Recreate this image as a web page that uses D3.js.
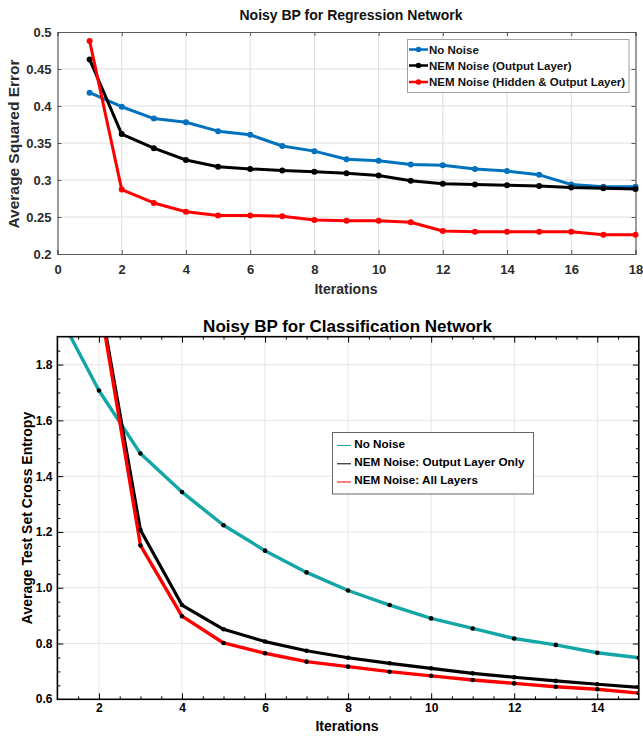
<!DOCTYPE html>
<html><head><meta charset="utf-8">
<script src="https://cdn.jsdelivr.net/npm/d3@7"></script>
<style>
html,body{margin:0;padding:0;background:#fff;}
svg{display:block;font-family:"Liberation Sans",Arial,sans-serif;font-weight:bold;}
</style></head>
<body>
<svg id="c" width="643" height="736"></svg>
<script>
// ---------- Data: top chart (regression) ----------
const regIterations = [1,2,3,4,5,6,7,8,9,10,11,12,13,14,15,16,17,18];
const regNoNoise   = [0.418,0.399,0.383,0.378,0.366,0.361,0.346,0.339,0.328,0.326,0.321,0.320,0.315,0.312,0.307,0.294,0.291,0.291];
const regNemOutput = [0.463,0.362,0.343,0.327,0.318,0.315,0.313,0.311,0.309,0.306,0.299,0.295,0.294,0.293,0.292,0.290,0.289,0.288];
const regNemHidden = [0.488,0.287,0.269,0.257,0.252,0.252,0.251,0.246,0.245,0.245,0.243,0.231,0.230,0.230,0.230,0.230,0.226,0.226];
const regXTicks = [0,2,4,6,8,10,12,14,16,18];
const regYTicks = [0.2,0.25,0.3,0.35,0.4,0.45,0.5];
const regYTickLabels = ["0.2","0.25","0.3","0.35","0.4","0.45","0.5"];
const regLegend = ["No Noise","NEM Noise (Output Layer)","NEM Noise (Hidden & Output Layer)"];

// ---------- Data: bottom chart (classification) ----------
const clsIterations = [1,2,3,4,5,6,7,8,9,10,11,12,13,14,15];
const clsNoNoise   = [1.99,1.707,1.481,1.343,1.224,1.133,1.055,0.990,0.938,0.890,0.854,0.818,0.795,0.767,0.749];
const clsNemOutput = [null,2.05,1.207,0.938,0.851,0.807,0.774,0.749,0.729,0.711,0.693,0.679,0.666,0.654,0.643];
const clsNemAll    = [null,2.04,1.152,0.898,0.802,0.765,0.735,0.717,0.699,0.684,0.669,0.657,0.645,0.636,0.622];
const clsXTicks = [2,4,6,8,10,12,14];
const clsYTicks = [0.6,0.8,1.0,1.2,1.4,1.6,1.8];
const clsYTickLabels = ["0.6","0.8","1.0","1.2","1.4","1.6","1.8"];
const clsLegend = ["No Noise","NEM Noise: Output Layer Only","NEM Noise: All Layers"];

const svg = d3.select("#c");

// ================= TOP CHART =================
(function(){
  const L=57.5, R=635.5, T=32, B=254;
  const x = d3.scaleLinear().domain([0,18]).range([L,R]);
  const y = d3.scaleLinear().domain([0.2,0.5]).range([B,T]);
  const g = svg.append("g");
  const axisCol = "#5a5a5a", textCol = "#2b2b2b";

  // grid
  g.append("g").selectAll("line").data(regXTicks.slice(1,-1)).join("line")
    .attr("x1",d=>x(d)).attr("x2",d=>x(d)).attr("y1",T).attr("y2",B)
    .attr("stroke","#dedede").attr("stroke-width",1);
  g.append("g").selectAll("line").data(regYTicks.slice(1,-1)).join("line")
    .attr("y1",d=>y(d)).attr("y2",d=>y(d)).attr("x1",L).attr("x2",R)
    .attr("stroke","#dedede").attr("stroke-width",1);

  // axes with inward ticks
  const xb = d3.axisBottom(x).tickValues(regXTicks).tickSize(-4).tickPadding(11).tickFormat(d3.format("d"));
  const xt = d3.axisTop(x).tickValues(regXTicks).tickSize(-4).tickFormat("");
  const yl = d3.axisLeft(y).tickValues(regYTicks).tickSize(-4).tickPadding(6).tickFormat((d,i)=>regYTickLabels[i]);
  const yr = d3.axisRight(y).tickValues(regYTicks).tickSize(-4).tickFormat("");
  function style(sel){
    sel.select(".domain").attr("stroke",axisCol).attr("stroke-width",1.2);
    sel.selectAll(".tick line").attr("stroke",axisCol);
    sel.selectAll(".tick text").attr("fill",textCol).style("font-size","13px").style("font-weight","bold")
      .style("font-family","'Liberation Sans',Arial,sans-serif");
  }
  g.append("g").attr("transform",`translate(0,${B})`).call(xb).call(style);
  g.append("g").attr("transform",`translate(0,${T})`).call(xt).call(style);
  g.append("g").attr("transform",`translate(${L},0)`).call(yl).call(style);
  g.append("g").attr("transform",`translate(${R},0)`).call(yr).call(style);

  // series
  const series = [
    {vals:regNoNoise, col:"#0072BD"},
    {vals:regNemOutput, col:"#000000"},
    {vals:regNemHidden, col:"#FF0000"}
  ];
  const line = d3.line().x(d=>x(d[0])).y(d=>y(d[1]));
  series.forEach(s=>{
    const pts = regIterations.map((it,i)=>[it,s.vals[i]]);
    g.append("path").datum(pts).attr("d",line).attr("fill","none")
      .attr("stroke",s.col).attr("stroke-width",3).attr("stroke-linejoin","round");
    g.append("g").selectAll("circle").data(pts).join("circle")
      .attr("cx",d=>x(d[0])).attr("cy",d=>y(d[1])).attr("r",3).attr("fill",s.col);
  });

  // title & labels
  svg.append("text").attr("x",351).attr("y",20).attr("text-anchor","middle")
    .attr("fill","#111").style("font-size","14px").text("Noisy BP for Regression Network");
  svg.append("text").attr("x",346).attr("y",294).attr("text-anchor","middle")
    .attr("fill",textCol).style("font-size","14px").text("Iterations");
  svg.append("text").attr("transform","translate(19,144) rotate(-90)").attr("text-anchor","middle")
    .attr("fill",textCol).style("font-size","15.5px").text("Average Squared Error");

  // legend
  const lg = svg.append("g");
  lg.append("rect").attr("x",407.5).attr("y",39.5).attr("width",221.5).attr("height",53)
    .attr("fill","#fff").attr("stroke","#a0a0a0").attr("stroke-width",1);
  const rows=[49.5,65.5,82];
  series.forEach((s,i)=>{
    lg.append("line").attr("x1",409).attr("x2",428).attr("y1",rows[i]).attr("y2",rows[i])
      .attr("stroke",s.col).attr("stroke-width",2.5);
    lg.append("circle").attr("cx",418.5).attr("cy",rows[i]).attr("r",2.8).attr("fill",s.col);
    lg.append("text").attr("x",429).attr("y",rows[i]+4.2).attr("fill","#111")
      .style("font-size","11.5px").text(regLegend[i]);
  });
})();

// ================= BOTTOM CHART =================
(function(){
  const L=57.4, R=638.8, T=336.7, B=699.3;
  const x = d3.scaleLinear().domain([1,15]).range([L,R]);
  const y = d3.scaleLinear().domain([0.6,1.9]).range([B,T]);
  const g = svg.append("g");

  // grid
  g.append("g").selectAll("line").data(clsXTicks).join("line")
    .attr("x1",d=>x(d)).attr("x2",d=>x(d)).attr("y1",T).attr("y2",B)
    .attr("stroke","#e6e6e6").attr("stroke-width",1);
  g.append("g").selectAll("line").data(clsYTicks.slice(1)).join("line")
    .attr("y1",d=>y(d)).attr("y2",d=>y(d)).attr("x1",L).attr("x2",R)
    .attr("stroke","#e6e6e6").attr("stroke-width",1);

  // minor ticks values
  const xMinor = d3.range(3,30).map(v=>v/2).filter(v=>v>1 && v<15 && v%2!==0);
  const yMinor = d3.range(13,38).map(v=>v/20).filter(v=>v>0.6 && v<1.9 && Math.abs((v*10)%2)>0.01 && Math.abs((v*10)%2-2)>0.01);

  function frameAxis(axisGen, tf){
    const a = g.append("g").attr("transform",tf).call(axisGen);
    a.select(".domain").remove();
    a.selectAll(".tick line").attr("stroke","#000").attr("stroke-width",1);
    a.selectAll(".tick text").attr("fill","#000").style("font-size","12px").style("font-weight","bold")
      .style("font-family","'Liberation Sans',Arial,sans-serif");
    return a;
  }
  // major ticks (inward)
  frameAxis(d3.axisBottom(x).tickValues(clsXTicks).tickSize(-6).tickPadding(4).tickFormat(d3.format("d")), `translate(0,${B})`);
  frameAxis(d3.axisTop(x).tickValues(clsXTicks).tickSize(-6).tickFormat(""), `translate(0,${T})`);
  frameAxis(d3.axisLeft(y).tickValues(clsYTicks.slice(1)).tickSize(-6).tickPadding(5).tickFormat((d,i)=>clsYTickLabels[i+1]), `translate(${L},0)`);
  frameAxis(d3.axisRight(y).tickValues(clsYTicks.slice(1)).tickSize(-6).tickFormat(""), `translate(${R},0)`);
  // 0.6 label at corner
  g.append("text").attr("x",L-5).attr("y",y(0.6)+4).attr("text-anchor","end")
    .style("font-size","12px").attr("fill","#000").text(clsYTickLabels[0]);
  // minor ticks
  frameAxis(d3.axisBottom(x).tickValues(xMinor).tickSize(-3).tickFormat(""), `translate(0,${B})`);
  frameAxis(d3.axisTop(x).tickValues(xMinor).tickSize(-3).tickFormat(""), `translate(0,${T})`);
  frameAxis(d3.axisLeft(y).tickValues(yMinor).tickSize(-3).tickFormat(""), `translate(${L},0)`);
  frameAxis(d3.axisRight(y).tickValues(yMinor).tickSize(-3).tickFormat(""), `translate(${R},0)`);

  // clip
  svg.append("defs").append("clipPath").attr("id","clsClip").append("rect")
    .attr("x",L).attr("y",T).attr("width",R-L).attr("height",B-T);
  const pg = g.append("g").attr("clip-path","url(#clsClip)");

  const series = [
    {vals:clsNoNoise, col:"#13a6a6", w:3.4},
    {vals:clsNemOutput, col:"#000000", w:3.2},
    {vals:clsNemAll, col:"#ff0000", w:3.4}
  ];
  const line = d3.line().defined(d=>d[1]!==null).x(d=>x(d[0])).y(d=>y(d[1]));
  series.forEach(s=>{
    const pts = clsIterations.map((it,i)=>[it,s.vals[i]]);
    pg.append("path").datum(pts).attr("d",line).attr("fill","none")
      .attr("stroke",s.col).attr("stroke-width",s.w).attr("stroke-linejoin","round");
  });
  series.forEach(s=>{
    const pts = clsIterations.map((it,i)=>[it,s.vals[i]]).filter(d=>d[1]!==null);
    pg.append("g").selectAll("circle").data(pts).join("circle")
      .attr("cx",d=>x(d[0])).attr("cy",d=>y(d[1])).attr("r",2.3).attr("fill","#000");
  });

  // frame
  g.append("rect").attr("x",L).attr("y",T).attr("width",R-L).attr("height",B-T)
    .attr("fill","none").attr("stroke","#000").attr("stroke-width",1.6);

  // title & labels
  svg.append("text").attr("x",347.5).attr("y",331.5).attr("text-anchor","middle")
    .attr("fill","#000").style("font-size","17px").text("Noisy BP for Classification Network");
  svg.append("text").attr("x",347).attr("y",731).attr("text-anchor","middle")
    .attr("fill","#000").style("font-size","14px").text("Iterations");
  svg.append("text").attr("transform","translate(31.5,518) rotate(-90)").attr("text-anchor","middle")
    .attr("fill","#000").style("font-size","14px").text("Average Test Set Cross Entropy");

  // legend
  const lg = svg.append("g");
  lg.append("rect").attr("x",332.5).attr("y",432.5).attr("width",201).attr("height",61.5)
    .attr("fill","#fff").attr("stroke","#666").attr("stroke-width",1);
  const rows=[447.5,465.8,484];
  series.forEach((s,i)=>{
    lg.append("line").attr("x1",337).attr("x2",351).attr("y1",rows[i]-2).attr("y2",rows[i]-2)
      .attr("stroke",s.col).attr("stroke-width",1);
    lg.append("text").attr("x",354.3).attr("y",rows[i]).attr("fill","#000")
      .style("font-size","11.7px").text(clsLegend[i]);
  });
})();
</script>
</body></html>
